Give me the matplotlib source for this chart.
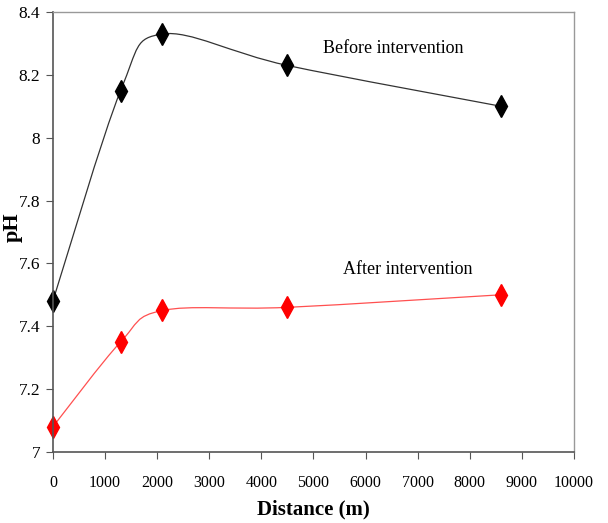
import numpy as np
import matplotlib.pyplot as plt
from matplotlib.path import Path
from matplotlib.patches import PathPatch

plt.rcParams['font.family'] = ['Liberation Serif', 'DejaVu Serif']

# Data
distance = [0, 1300, 2100, 4500, 8600]
ph_before = [7.48, 8.15, 8.33, 8.23, 8.10]
ph_after = [7.08, 7.35, 7.45, 7.46, 7.50]
x_ticks = list(range(0, 10001, 1000))
y_ticks = [7, 7.2, 7.4, 7.6, 7.8, 8, 8.2, 8.4]


# Excel-like smoothed line: cubic Bezier segments through the points
def smooth_path(xs, ys):
    pts = np.column_stack([xs, ys]).astype(float)
    verts = [pts[0]]
    codes = [Path.MOVETO]
    n = len(pts)
    for i in range(n - 1):
        p0 = pts[i - 1] if i > 0 else pts[i]
        p1 = pts[i]
        p2 = pts[i + 1]
        p3 = pts[i + 2] if i + 2 < n else pts[i + 1]
        c1 = p1 + (p2 - p0) / 6
        c2 = p2 - (p3 - p1) / 6
        verts += [c1, c2, p2]
        codes += [Path.CURVE4] * 3
    return Path(verts, codes)


fig = plt.figure(figsize=(6.08, 5.23), dpi=100)
ax = fig.add_axes([0.087, 0.136, 0.857, 0.841])

ax.add_patch(PathPatch(smooth_path(distance, ph_before), facecolor='none',
                       edgecolor='#333333', lw=0.9))
ax.add_patch(PathPatch(smooth_path(distance, ph_after), facecolor='none',
                       edgecolor='#ff5050', lw=0.9))
ax.plot(distance, ph_before, linestyle='none', marker='d', color='black',
        markersize=11, clip_on=False)
ax.plot(distance, ph_after, linestyle='none', marker='d', color='red',
        markersize=11, clip_on=False)

ax.text(6525, 8.285, 'Before intervention', fontsize=13, ha='center', va='center')
ax.text(6810, 7.58, 'After intervention', fontsize=13, ha='center', va='center')

ax.set_xlim(0, 10000)
ax.set_ylim(7, 8.4)
ax.set_xticks(x_ticks)
ax.set_xticklabels([str(t) for t in x_ticks])
ax.set_yticks(y_ticks)
ax.set_yticklabels(['%g' % t for t in y_ticks])
ax.tick_params(axis='x', direction='out', length=5, pad=12, labelsize=11.5,
               color='#555555')
ax.tick_params(axis='y', direction='out', length=5, pad=4, labelsize=12.5,
               color='#555555')

ax.set_xlabel('Distance (m)', fontsize=15, fontweight='bold', labelpad=6)
ax.set_ylabel('pH', fontsize=16, fontweight='bold')
ax.yaxis.set_label_coords(-0.057, 0.51)

for side in ['left', 'bottom']:
    ax.spines[side].set_color('#555555')
    ax.spines[side].set_linewidth(1.2)
for side in ['top', 'right']:
    ax.spines[side].set_color('#999999')
    ax.spines[side].set_linewidth(1.0)

fig.savefig('out.png', dpi=100)
